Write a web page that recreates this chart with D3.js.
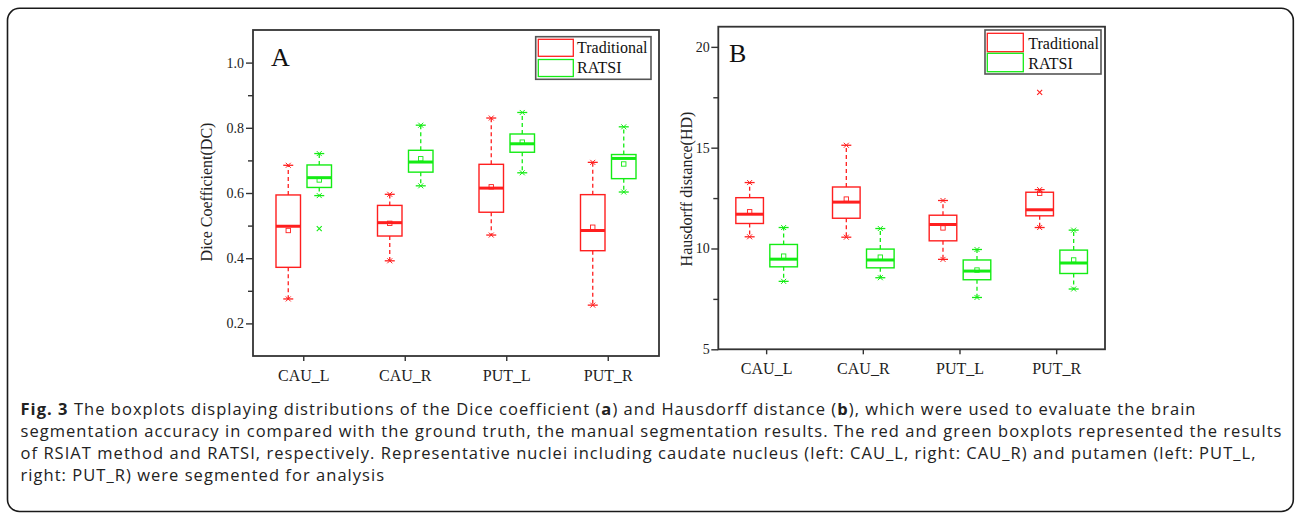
<!DOCTYPE html>
<html><head><meta charset="utf-8">
<script src="https://cdn.jsdelivr.net/npm/d3@7"></script>
<style>body{margin:0;background:#fff;} svg{display:block}</style>
</head><body>
<svg id="fig" width="1295" height="515"></svg>
<script>
// ---------------- DATA ----------------
const categories = ["CAU_L", "CAU_R", "PUT_L", "PUT_R"];
const seriesNames = ["Traditional", "RATSI"];
// per category: [min, q1, median, mean, q3, max]
const dcTraditional = [
  [0.275, 0.372, 0.498, 0.485, 0.594, 0.685],
  [0.392, 0.468, 0.509, 0.507, 0.562, 0.596],
  [0.471, 0.541, 0.615, 0.619, 0.688, 0.830],
  [0.256, 0.423, 0.485, 0.495, 0.595, 0.694]
];
const dcRatsi = [
  [0.592, 0.617, 0.647, 0.640, 0.686, 0.721],
  [0.622, 0.664, 0.695, 0.705, 0.731, 0.808],
  [0.662, 0.725, 0.751, 0.756, 0.781, 0.847],
  [0.603, 0.644, 0.706, 0.689, 0.718, 0.803]
];
const dcOutliers = [["CAU_L", "RATSI", 0.491]];
const dcTicks = [0.2, 0.4, 0.6, 0.8, 1.0];
const dcMinorTicks = [0.3, 0.5, 0.7, 0.9];

const hdTraditional = [
  [10.58, 11.24, 11.70, 11.82, 12.52, 13.27],
  [10.56, 11.50, 12.30, 12.45, 13.05, 15.12],
  [9.46, 10.38, 11.19, 11.02, 11.65, 12.38],
  [11.04, 11.62, 11.92, 12.74, 12.79, 12.92]
];
const hdRatsi = [
  [8.37, 9.09, 9.47, 9.62, 10.20, 11.04],
  [8.55, 9.04, 9.43, 9.57, 9.97, 10.99],
  [7.57, 8.45, 8.88, 8.93, 9.43, 9.95],
  [7.99, 8.76, 9.28, 9.43, 9.92, 10.91]
];
const hdOutliers = [["PUT_R", "Traditional", 17.74]];
const hdTicks = [5, 10, 15, 20];
const hdMinorTicks = [7.5, 12.5, 17.5];

// caption text: [text, bold]
const caption1 = [["Fig. 3", true], [" The boxplots displaying distributions of the Dice coefficient (", false], ["a", true], [") and Hausdorff distance (", false], ["b", true], ["), which were used to evaluate the brain", false]];
const caption2 = [["segmentation accuracy in compared with the ground truth, the manual segmentation results. The red and green boxplots represented the results", false]];
const caption3 = [["of RSIAT method and RATSI, respectively. Representative nuclei including caudate nucleus (left: CAU_L, right: CAU_R) and putamen (left: PUT_L,", false]];
const caption4 = [["right: PUT_R) were segmented for analysis", false]];

// ---------------- STYLE / LAYOUT ----------------
const colors = ["#ff1f1f", "#14ec14"];
const axisColor = "#333";
const serif = "'Liberation Serif', 'Times New Roman', serif";
const svg = d3.select("#fig");
svg.append("rect").attr("width", 1295).attr("height", 515).attr("fill", "#fff");

// outer figure frame
svg.append("rect").attr("x", 7.5).attr("y", 8.3).attr("width", 1285.8).attr("height", 503.2)
  .attr("rx", 12).attr("fill", "none").attr("stroke", "#1a1a1a").attr("stroke-width", 1.6);

function cross(cx, cy, r) {
  return `M${cx - r},${cy - r}L${cx + r},${cy + r}M${cx - r},${cy + r}L${cx + r},${cy - r}`;
}

function drawPanel(cfg) {
  const g = svg.append("g");
  const x = d3.scaleBand().domain(categories).range([cfg.left, cfg.right]).padding(0);
  const y = d3.scaleLinear().domain(cfg.domain).range([cfg.bottom, cfg.top]);
  const xc = c => x(c) + x.bandwidth() / 2;

  const ya = g.append("g").attr("transform", `translate(${cfg.left},0)`)
    .call(d3.axisLeft(y).tickValues(cfg.ticks).tickSize(7).tickPadding(cfg.tickPad).tickSizeOuter(0).tickFormat(cfg.fmt));
  ya.select(".domain").remove();
  ya.selectAll("line").attr("stroke", axisColor).attr("stroke-width", 1.4);
  ya.selectAll("text").attr("font-family", serif).attr("font-size", 14).attr("fill", "#222");
  const ym = g.append("g").attr("transform", `translate(${cfg.left},0)`)
    .call(d3.axisLeft(y).tickValues(cfg.minor).tickSize(5).tickSizeOuter(0).tickFormat(""));
  ym.select(".domain").remove();
  ym.selectAll("line").attr("stroke", axisColor).attr("stroke-width", 1.4);

  const xa = g.append("g").attr("transform", `translate(0,${cfg.bottom})`)
    .call(d3.axisBottom(x).tickSize(5).tickPadding(8.6).tickSizeOuter(0));
  xa.select(".domain").remove();
  xa.selectAll("line").attr("stroke", axisColor).attr("stroke-width", 1.4);
  xa.selectAll("text").attr("font-family", serif).attr("font-size", 16).attr("fill", "#222");

  g.append("text")
    .attr("transform", `translate(${cfg.titleX},${cfg.titleY}) rotate(-90)`)
    .attr("text-anchor", "middle").attr("font-family", serif).attr("font-size", 16).attr("fill", "#222")
    .text(cfg.title);

  g.append("text").attr("x", cfg.letterX).attr("y", cfg.letterY)
    .attr("font-family", serif).attr("font-size", cfg.letterSize).attr("fill", "#111").text(cfg.letter);

  cfg.series.forEach((data, si) => {
    const col = colors[si];
    const off = si === 0 ? -cfg.off : cfg.off;
    const bg = g.append("g");
    data.forEach((st, i) => {
      const cx = xc(categories[i]) + off;
      const [mn, q1, med, mean, q3, mx] = st;
      bg.append("line").attr("x1", cx).attr("x2", cx).attr("y1", y(q1)).attr("y2", y(mn))
        .attr("stroke", col).attr("stroke-width", 1.3).attr("stroke-dasharray", "4,3");
      bg.append("line").attr("x1", cx).attr("x2", cx).attr("y1", y(q3)).attr("y2", y(mx))
        .attr("stroke", col).attr("stroke-width", 1.3).attr("stroke-dasharray", "4,3");
      [mn, mx].forEach(v => {
        bg.append("line").attr("x1", cx - 5).attr("x2", cx + 5).attr("y1", y(v)).attr("y2", y(v))
          .attr("stroke", col).attr("stroke-width", 1.3);
        bg.append("path").attr("d", cross(cx, y(v), 2.5)).attr("stroke", col).attr("stroke-width", 1);
      });
      bg.append("rect").attr("x", cx - cfg.bw / 2).attr("y", y(q3)).attr("width", cfg.bw).attr("height", y(q1) - y(q3))
        .attr("fill", "none").attr("stroke", col).attr("stroke-width", 1.4);
      bg.append("line").attr("x1", cx - cfg.bw / 2).attr("x2", cx + cfg.bw / 2).attr("y1", y(med)).attr("y2", y(med))
        .attr("stroke", col).attr("stroke-width", 3);
      bg.append("rect").attr("x", cx - 2.2).attr("y", y(mean) - 2.2).attr("width", 4.4).attr("height", 4.4)
        .attr("fill", "none").attr("stroke", col).attr("stroke-width", 0.9);
    });
  });
  cfg.outliers.forEach(([cat, sname, v]) => {
    const si = seriesNames.indexOf(sname);
    const cx = xc(cat) + (si === 0 ? -cfg.off : cfg.off);
    g.append("path").attr("d", cross(cx, y(v), 2.5)).attr("stroke", colors[si]).attr("stroke-width", 1.1);
  });

  g.append("rect").attr("x", cfg.left).attr("y", cfg.top).attr("width", cfg.right - cfg.left).attr("height", cfg.bottom - cfg.top)
    .attr("fill", "none").attr("stroke", axisColor).attr("stroke-width", 1.8);

  const L = cfg.legend;
  g.append("rect").attr("x", L.x).attr("y", L.y).attr("width", L.w).attr("height", L.h)
    .attr("fill", "#fff").attr("stroke", "#555").attr("stroke-width", 1.6);
  seriesNames.forEach((name, si) => {
    g.append("rect").attr("x", L.sx).attr("y", L.sy[si]).attr("width", L.sw).attr("height", L.sh)
      .attr("fill", "none").attr("stroke", colors[si]).attr("stroke-width", 1.3);
    g.append("text").attr("x", L.tx).attr("y", L.ty[si]).attr("font-family", serif).attr("font-size", 16)
      .attr("fill", "#111").text(name);
  });
}

drawPanel({
  left: 253, right: 659, top: 30, bottom: 356,
  domain: [0.1, 1.1], ticks: dcTicks, minor: dcMinorTicks, fmt: d3.format(".1f"), tickPad: 2,
  series: [dcTraditional, dcRatsi], outliers: dcOutliers,
  off: 15.5, bw: 24.5,
  title: "Dice Coefficient(DC)", titleX: 212, titleY: 192,
  letter: "A", letterX: 271, letterY: 65.7, letterSize: 26,
  legend: { x: 535.7, y: 36.7, w: 115.3, h: 42.6, sx: 538.3, sw: 35, sh: 17, sy: [39.3, 59.5], tx: 577, ty: [53.3, 73.3] }
});

drawPanel({
  left: 718.3, right: 1105, top: 26.7, bottom: 349.3,
  domain: [5, 21], ticks: hdTicks, minor: hdMinorTicks, fmt: d3.format("d"), tickPad: 1.5,
  series: [hdTraditional, hdRatsi], outliers: hdOutliers,
  off: 17, bw: 27.6,
  title: "Hausdorff distance(HD)", titleX: 692, titleY: 189,
  letter: "B", letterX: 729, letterY: 62.3, letterSize: 26,
  legend: { x: 985, y: 30, w: 116, h: 44, sx: 987.3, sw: 36, sh: 18.4, sy: [33.3, 53.3], tx: 1028.3, ty: [48.5, 69] }
});

// caption
const capFont = "'Open Sans', 'Noto Sans', sans-serif";
const capTargets = [1176, 1262, 1236, null]; // line widths in px
const capNodes = [];
[caption1, caption2, caption3, caption4].forEach((parts, li) => {
  const t = svg.append("text").attr("x", 20.5).attr("y", 415 + li * 22)
    .attr("font-family", capFont).attr("font-size", 16.5).attr("fill", "#222");
  parts.forEach(([s, b]) => t.append("tspan").attr("font-weight", b ? "bold" : "normal").text(s));
  capNodes.push(t);
});
let spacings = [];
capNodes.forEach((t, li) => {
  if (capTargets[li] == null) return;
  const n = t.text().length;
  const w = t.node().getComputedTextLength();
  const ls = Math.max(0, (capTargets[li] - w) / n);
  spacings.push(ls);
  t.attr("letter-spacing", ls);
});
const avgLs = d3.mean(spacings);
capNodes[3].attr("letter-spacing", avgLs);
</script>
</body></html>
